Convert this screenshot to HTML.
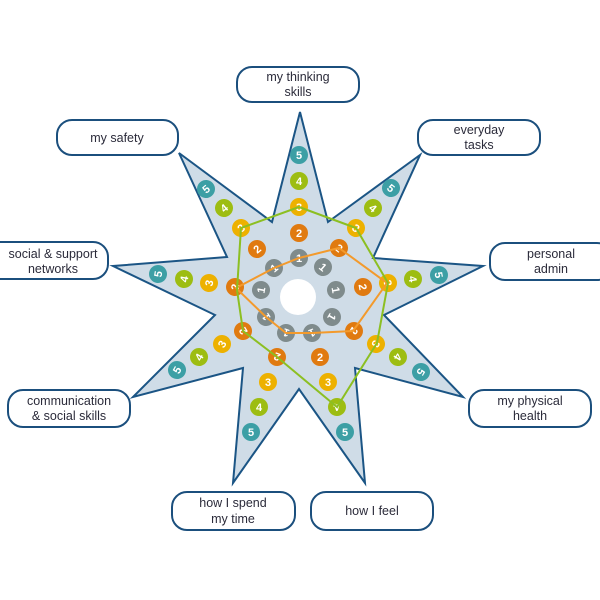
<!DOCTYPE html>
<html><head><meta charset="utf-8"><style>
html,body{margin:0;padding:0;background:#fff;width:600px;height:600px;overflow:hidden}
svg{display:block}
.l{font-family:"Liberation Sans",sans-serif;font-size:12.5px;fill:#2b2b3a;text-anchor:middle}
.n{font-family:"Liberation Sans",sans-serif;font-size:11px;font-weight:bold;fill:#fff;text-anchor:middle}
.b{fill:#fff;stroke:#1b4f7d;stroke-width:2}
.c1{fill:#7f8b8c}.c2{fill:#e07a10}.c3{fill:#edb100}.c4{fill:#9dbd12}.c5{fill:#3c9fa5}
</style></head><body>
<svg width="600" height="600" viewBox="0 0 600 600">
<polygon points="300,112 328,222 420,155 373,258 483,266 384,315 463,397 355,368 365,483 299,389 233,483 243,368 133,397 215,315 113,266 227,257 179,153 272,222" fill="#cfdce7" stroke="#1b5585" stroke-width="2" stroke-linejoin="miter"/>
<circle cx="298" cy="297" r="18" fill="#fff"/>

<g id="dots">
<!-- top -->
<g transform="translate(299,258)"><circle class="c1" r="9"/><text class="n" y="4">1</text></g>
<g transform="translate(299,233)"><circle class="c2" r="9"/><text class="n" y="4">2</text></g>
<g transform="translate(299,207)"><circle class="c3" r="9"/><text class="n" y="4">3</text></g>
<g transform="translate(299,181)"><circle class="c4" r="9"/><text class="n" y="4">4</text></g>
<g transform="translate(299,155)"><circle class="c5" r="9"/><text class="n" y="4">5</text></g>
<!-- TR -->
<g transform="translate(323,267) rotate(40)"><circle class="c1" r="9"/><text class="n" y="4">1</text></g>
<g transform="translate(339,248) rotate(40)"><circle class="c2" r="9"/><text class="n" y="4">2</text></g>
<g transform="translate(356,228) rotate(40)"><circle class="c3" r="9"/><text class="n" y="4">3</text></g>
<g transform="translate(373,208) rotate(40)"><circle class="c4" r="9"/><text class="n" y="4">4</text></g>
<g transform="translate(391,188) rotate(40)"><circle class="c5" r="9"/><text class="n" y="4">5</text></g>
<!-- right -->
<g transform="translate(336,290) rotate(80)"><circle class="c1" r="9"/><text class="n" y="4">1</text></g>
<g transform="translate(363,287) rotate(80)"><circle class="c2" r="9"/><text class="n" y="4">2</text></g>
<g transform="translate(388,283) rotate(80)"><circle class="c3" r="9"/><text class="n" y="4">3</text></g>
<g transform="translate(413,279) rotate(80)"><circle class="c4" r="9"/><text class="n" y="4">4</text></g>
<g transform="translate(439,275) rotate(80)"><circle class="c5" r="9"/><text class="n" y="4">5</text></g>
<!-- BR -->
<g transform="translate(332,317) rotate(121)"><circle class="c1" r="9"/><text class="n" y="4">1</text></g>
<g transform="translate(354,331) rotate(121)"><circle class="c2" r="9"/><text class="n" y="4">2</text></g>
<g transform="translate(376,344) rotate(121)"><circle class="c3" r="9"/><text class="n" y="4">3</text></g>
<g transform="translate(398,357) rotate(121)"><circle class="c4" r="9"/><text class="n" y="4">4</text></g>
<g transform="translate(421,372) rotate(121)"><circle class="c5" r="9"/><text class="n" y="4">5</text></g>
<!-- bottom right -->
<g transform="translate(312,333) rotate(160)"><circle class="c1" r="9"/><text class="n" y="4">1</text></g>
<g transform="translate(320,357)"><circle class="c2" r="9"/><text class="n" y="4">2</text></g>
<g transform="translate(328,382)"><circle class="c3" r="9"/><text class="n" y="4">3</text></g>
<g transform="translate(337,407) rotate(160)"><circle class="c4" r="9"/><text class="n" y="4">4</text></g>
<g transform="translate(345,432)"><circle class="c5" r="9"/><text class="n" y="4">5</text></g>
<!-- bottom left -->
<g transform="translate(286,333) rotate(-160)"><circle class="c1" r="9"/><text class="n" y="4">1</text></g>
<g transform="translate(277,357) rotate(-160)"><circle class="c2" r="9"/><text class="n" y="4">2</text></g>
<g transform="translate(268,382)"><circle class="c3" r="9"/><text class="n" y="4">3</text></g>
<g transform="translate(259,407)"><circle class="c4" r="9"/><text class="n" y="4">4</text></g>
<g transform="translate(251,432)"><circle class="c5" r="9"/><text class="n" y="4">5</text></g>
<!-- BL -->
<g transform="translate(266,317) rotate(-121)"><circle class="c1" r="9"/><text class="n" y="4">1</text></g>
<g transform="translate(243,331) rotate(-121)"><circle class="c2" r="9"/><text class="n" y="4">2</text></g>
<g transform="translate(222,344) rotate(-60)"><circle class="c3" r="9"/><text class="n" y="4">3</text></g>
<g transform="translate(199,357) rotate(-60)"><circle class="c4" r="9"/><text class="n" y="4">4</text></g>
<g transform="translate(177,370) rotate(-60)"><circle class="c5" r="9"/><text class="n" y="4">5</text></g>
<!-- left -->
<g transform="translate(261,290) rotate(-80)"><circle class="c1" r="9"/><text class="n" y="4">1</text></g>
<g transform="translate(235,287) rotate(-80)"><circle class="c2" r="9"/><text class="n" y="4">2</text></g>
<g transform="translate(209,283) rotate(-80)"><circle class="c3" r="9"/><text class="n" y="4">3</text></g>
<g transform="translate(184,279) rotate(-80)"><circle class="c4" r="9"/><text class="n" y="4">4</text></g>
<g transform="translate(158,274) rotate(-80)"><circle class="c5" r="9"/><text class="n" y="4">5</text></g>
<!-- TL -->
<g transform="translate(274,268) rotate(-40)"><circle class="c1" r="9"/><text class="n" y="4">1</text></g>
<g transform="translate(257,249) rotate(-40)"><circle class="c2" r="9"/><text class="n" y="4">2</text></g>
<g transform="translate(241,228) rotate(-40)"><circle class="c3" r="9"/><text class="n" y="4">3</text></g>
<g transform="translate(224,208) rotate(-40)"><circle class="c4" r="9"/><text class="n" y="4">4</text></g>
<g transform="translate(206,189) rotate(-40)"><circle class="c5" r="9"/><text class="n" y="4">5</text></g>
</g>

<polygon points="299,258 339,248 387,283 353,331 312,333 286,333 266,317 236,288 274,268" fill="none" stroke="#f39a2c" stroke-width="2"/>
<polygon points="299,207 356,228 388,283 377,343 337,407 277,357 243,331 237,290 241,228" fill="none" stroke="#8cbf22" stroke-width="2"/>

<rect class="b" x="237" y="67" width="122" height="35" rx="15"/>
<text class="l" x="298" y="81">my thinking</text><text class="l" x="298" y="96">skills</text>
<rect class="b" x="57" y="120" width="121" height="35" rx="15"/>
<text class="l" x="117" y="142">my safety</text>
<rect class="b" x="418" y="120" width="122" height="35" rx="15"/>
<text class="l" x="479" y="134">everyday</text><text class="l" x="479" y="149">tasks</text>
<rect class="b" x="-15" y="242" width="123" height="37" rx="15"/>
<text class="l" x="53" y="258">social &amp; support</text><text class="l" x="53" y="273">networks</text>
<rect class="b" x="490" y="243" width="122" height="37" rx="15"/>
<text class="l" x="551" y="258">personal</text><text class="l" x="551" y="273">admin</text>
<rect class="b" x="8" y="390" width="122" height="37" rx="15"/>
<text class="l" x="69" y="405">communication</text><text class="l" x="69" y="420">&amp; social skills</text>
<rect class="b" x="469" y="390" width="122" height="37" rx="15"/>
<text class="l" x="530" y="405">my physical</text><text class="l" x="530" y="420">health</text>
<rect class="b" x="172" y="492" width="123" height="38" rx="15"/>
<text class="l" x="233" y="507">how I spend</text><text class="l" x="233" y="523">my time</text>
<rect class="b" x="311" y="492" width="122" height="38" rx="15"/>
<text class="l" x="372" y="515">how I feel</text>
</svg>
</body></html>
